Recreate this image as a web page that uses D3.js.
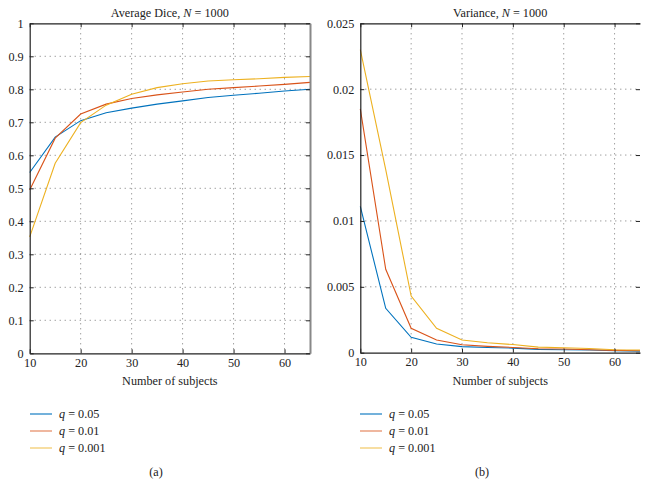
<!DOCTYPE html>
<html><head><meta charset="utf-8">
<script src="https://cdn.jsdelivr.net/npm/d3@7"></script>
<style>
body{margin:0;background:#fff;}
svg text{font-family:'Liberation Serif';fill:#222;}
</style></head>
<body><svg id="c" width="648" height="486"></svg>
<script>
const subjects = [10,15,20,25,30,35,40,45,50,55,60,65];
const seriesNames = ["q = 0.05","q = 0.01","q = 0.001"];
const qValues = ["0.05","0.01","0.001"];
const colors = ["#0072BD","#D95319","#EDB120"];
const diceQ005 = [0.548,0.655,0.705,0.729,0.743,0.755,0.765,0.775,0.782,0.788,0.795,0.800];
const diceQ001 = [0.495,0.652,0.725,0.755,0.772,0.783,0.792,0.800,0.805,0.810,0.815,0.821];
const diceQ0001 = [0.353,0.576,0.699,0.752,0.785,0.805,0.817,0.825,0.829,0.832,0.836,0.839];
const varQ005 = [0.0111,0.00337,0.00117,0.00066,0.00046,0.00040,0.00035,0.00025,0.00022,0.00020,0.00015,0.00012];
const varQ001 = [0.0185,0.00633,0.00185,0.00096,0.00060,0.00048,0.00040,0.00030,0.00028,0.00022,0.00018,0.00015];
const varQ0001 = [0.0230,0.0139,0.0043,0.00185,0.00096,0.00075,0.00062,0.00042,0.00038,0.00032,0.00022,0.00020];
const xTicks = [10,20,30,40,50,60];
const diceTicks = [0,0.1,0.2,0.3,0.4,0.5,0.6,0.7,0.8,0.9,1];
const diceTickLabels = ["0","0.1","0.2","0.3","0.4","0.5","0.6","0.7","0.8","0.9","1"];
const varTicks = [0,0.005,0.01,0.015,0.02,0.025];
const varTickLabels = ["0","0.005","0.01","0.015","0.02","0.025"];

const svg = d3.select("#c");
const FONT = "Liberation Serif";
const FS = 12.2;

function panel(opts){
  const {x0,x1,y0,y1,yMax,yTicks,yLabels,series,title,tag,rightBorder,legendX} = opts;
  const x = d3.scaleLinear().domain([10,65]).range([x0,x1]);
  const y = d3.scaleLinear().domain([0,yMax]).range([y1,y0]);
  const g = svg.append("g");
  g.selectAll(".gx").data(xTicks.slice(1)).join("line")
    .attr("x1",d=>x(d)).attr("x2",d=>x(d)).attr("y1",y0).attr("y2",y1)
    .attr("stroke","#555").attr("stroke-width",0.8).attr("stroke-dasharray","1,4");
  g.selectAll(".gy").data(yTicks.slice(1,-1)).join("line")
    .attr("x1",x0).attr("x2",x1).attr("y1",d=>y(d)).attr("y2",d=>y(d))
    .attr("stroke","#555").attr("stroke-width",0.8).attr("stroke-dasharray","1,4");
  const line = d3.line().x((d,i)=>x(subjects[i])).y(d=>y(d));
  series.forEach((s,i)=>{
    g.append("path").attr("d",line(s)).attr("fill","none")
      .attr("stroke",colors[i]).attr("stroke-width",1.1);
  });
  const bottom = d3.axisBottom(x).tickValues(xTicks).tickSizeInner(-4).tickSizeOuter(0).tickPadding(5).tickFormat(d3.format("d"));
  const ga = g.append("g").attr("transform",`translate(0,${y1})`).call(bottom);
  const top = d3.axisTop(x).tickValues(xTicks).tickSizeInner(-4).tickSizeOuter(0).tickFormat("");
  const gt = g.append("g").attr("transform",`translate(0,${y0})`).call(top);
  const left = d3.axisLeft(y).tickValues(yTicks).tickSizeInner(-4).tickSizeOuter(0).tickPadding(6).tickFormat((d,i)=>yLabels[i]);
  const gl = g.append("g").attr("transform",`translate(${x0},0)`).call(left);
  const right = d3.axisRight(y).tickValues(yTicks).tickSizeInner(-4).tickSizeOuter(0).tickFormat("");
  const gr = g.append("g").attr("transform",`translate(${x1},0)`).call(right);
  [ga,gt,gl,gr].forEach(a=>{
    a.attr("font-family",FONT).attr("font-size",FS);
    a.selectAll("text").attr("fill","#222");
    a.selectAll(".tick line").attr("stroke","#222");
    a.select(".domain").attr("stroke","#222").attr("stroke-width",1.2);
  });
  if(rightBorder){ gr.select(".domain").attr("stroke","#888").attr("stroke-width",2); }
  else { gr.select(".domain").remove(); }
  const t = svg.append("text").attr("x",(x0+x1)/2).attr("y",17).attr("text-anchor","middle").attr("font-family",FONT).attr("font-size",FS);
  t.append("tspan").text(title+", ");
  t.append("tspan").text("N").attr("font-style","italic");
  t.append("tspan").text(" = 1000");
  svg.append("text").attr("x",(x0+x1)/2).attr("y",385).attr("text-anchor","middle").attr("font-family",FONT).attr("font-size",FS).text("Number of subjects");
  const rows = [414,431,448];
  seriesNames.forEach((n,i)=>{
    svg.append("line").attr("x1",legendX).attr("x2",legendX+22).attr("y1",rows[i]).attr("y2",rows[i])
      .attr("stroke",colors[i]).attr("stroke-width",1.1).attr("opacity",i===0?1:0.75);
    const tx = svg.append("text").attr("x",legendX+29).attr("y",rows[i]+4).attr("font-family",FONT).attr("font-size",FS);
    tx.append("tspan").text("q").attr("font-style","italic");
    tx.append("tspan").text(" = "+qValues[i]);
  });
  svg.append("text").attr("x",tag.x).attr("y",476).attr("text-anchor","middle").attr("font-family",FONT).attr("font-size",FS).text(tag.t);
}

panel({x0:29.7,x1:310,y0:23.3,y1:353.3,yMax:1,yTicks:diceTicks,yLabels:diceTickLabels,
  series:[diceQ005,diceQ001,diceQ0001],title:"Average Dice",tag:{x:156,t:"(a)"},rightBorder:true,legendX:30});
panel({x0:360.3,x1:640,y0:23.3,y1:352.7,yMax:0.025,yTicks:varTicks,yLabels:varTickLabels,
  series:[varQ005,varQ001,varQ0001],title:"Variance",tag:{x:482,t:"(b)"},rightBorder:false,legendX:360});
</script></body></html>
